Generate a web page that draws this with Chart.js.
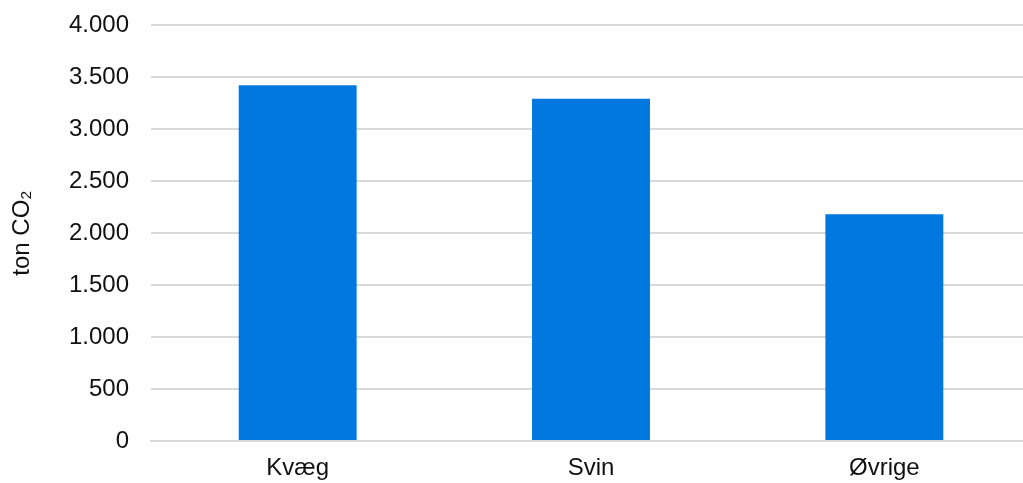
<!DOCTYPE html>
<html>
<head>
<meta charset="utf-8">
<script src="https://cdn.jsdelivr.net/npm/chart.js@4/dist/chart.umd.min.js"></script>
<style>
  html, body { margin: 0; padding: 0; overflow: hidden; background: #fff; }
  #wrap { width: 1040px; height: 483px; }
</style>
</head>
<body>
<div id="wrap"><canvas id="chart"></canvas></div>
<script>
// data
const categories = ['Kvæg', 'Svin', 'Øvrige'];
const emissions = [3420, 3290, 2180];
const yTicks = [0, 500, 1000, 1500, 2000, 2500, 3000, 3500, 4000];

const fmt = v => String(v).replace(/\B(?=(\d{3})+(?!\d))/g, '.');
const font = { size: 24, family: 'Liberation Sans, Arial, sans-serif' };

// keep the plot box where the reference has it
const noPad = s => { s.paddingTop = 0; s.paddingBottom = 0; s.paddingLeft = 0; s.paddingRight = 0; };

new Chart(document.getElementById('chart'), {
  type: 'bar',
  data: {
    labels: categories,
    datasets: [{
      data: emissions,
      backgroundColor: '#0078e0',
      borderWidth: 0,
      categoryPercentage: 1,
      barPercentage: 0.402,
    }]
  },
  options: {
    responsive: true,
    maintainAspectRatio: false,
    animation: false,
    layout: { padding: { top: 25, right: 9, left: 0, bottom: 0 } },
    plugins: { legend: { display: false }, tooltip: { enabled: false } },
    scales: {
      x: {
        grid: { display: false, drawTicks: false },
        border: { color: '#d9d9d9', width: 2 },
        ticks: { color: '#111', font, padding: 13 },
        afterFit: s => { s.height = 42; noPad(s); },
      },
      y: {
        min: 0,
        max: 4000,
        afterBuildTicks: s => { s.ticks = yTicks.map(v => ({ value: v })); },
        grid: { color: '#d9d9d9', lineWidth: 2, drawTicks: false },
        border: { display: false },
        ticks: { color: '#111', font, padding: 22, callback: v => fmt(v) },
        title: {
          display: true,
          text: 'ton CO₂',
          color: '#111',
          font,
          padding: { top: 8, bottom: 0 },
        },
        afterFit: s => { s.width = 151; noPad(s); },
      }
    }
  }
});
</script>
</body>
</html>
